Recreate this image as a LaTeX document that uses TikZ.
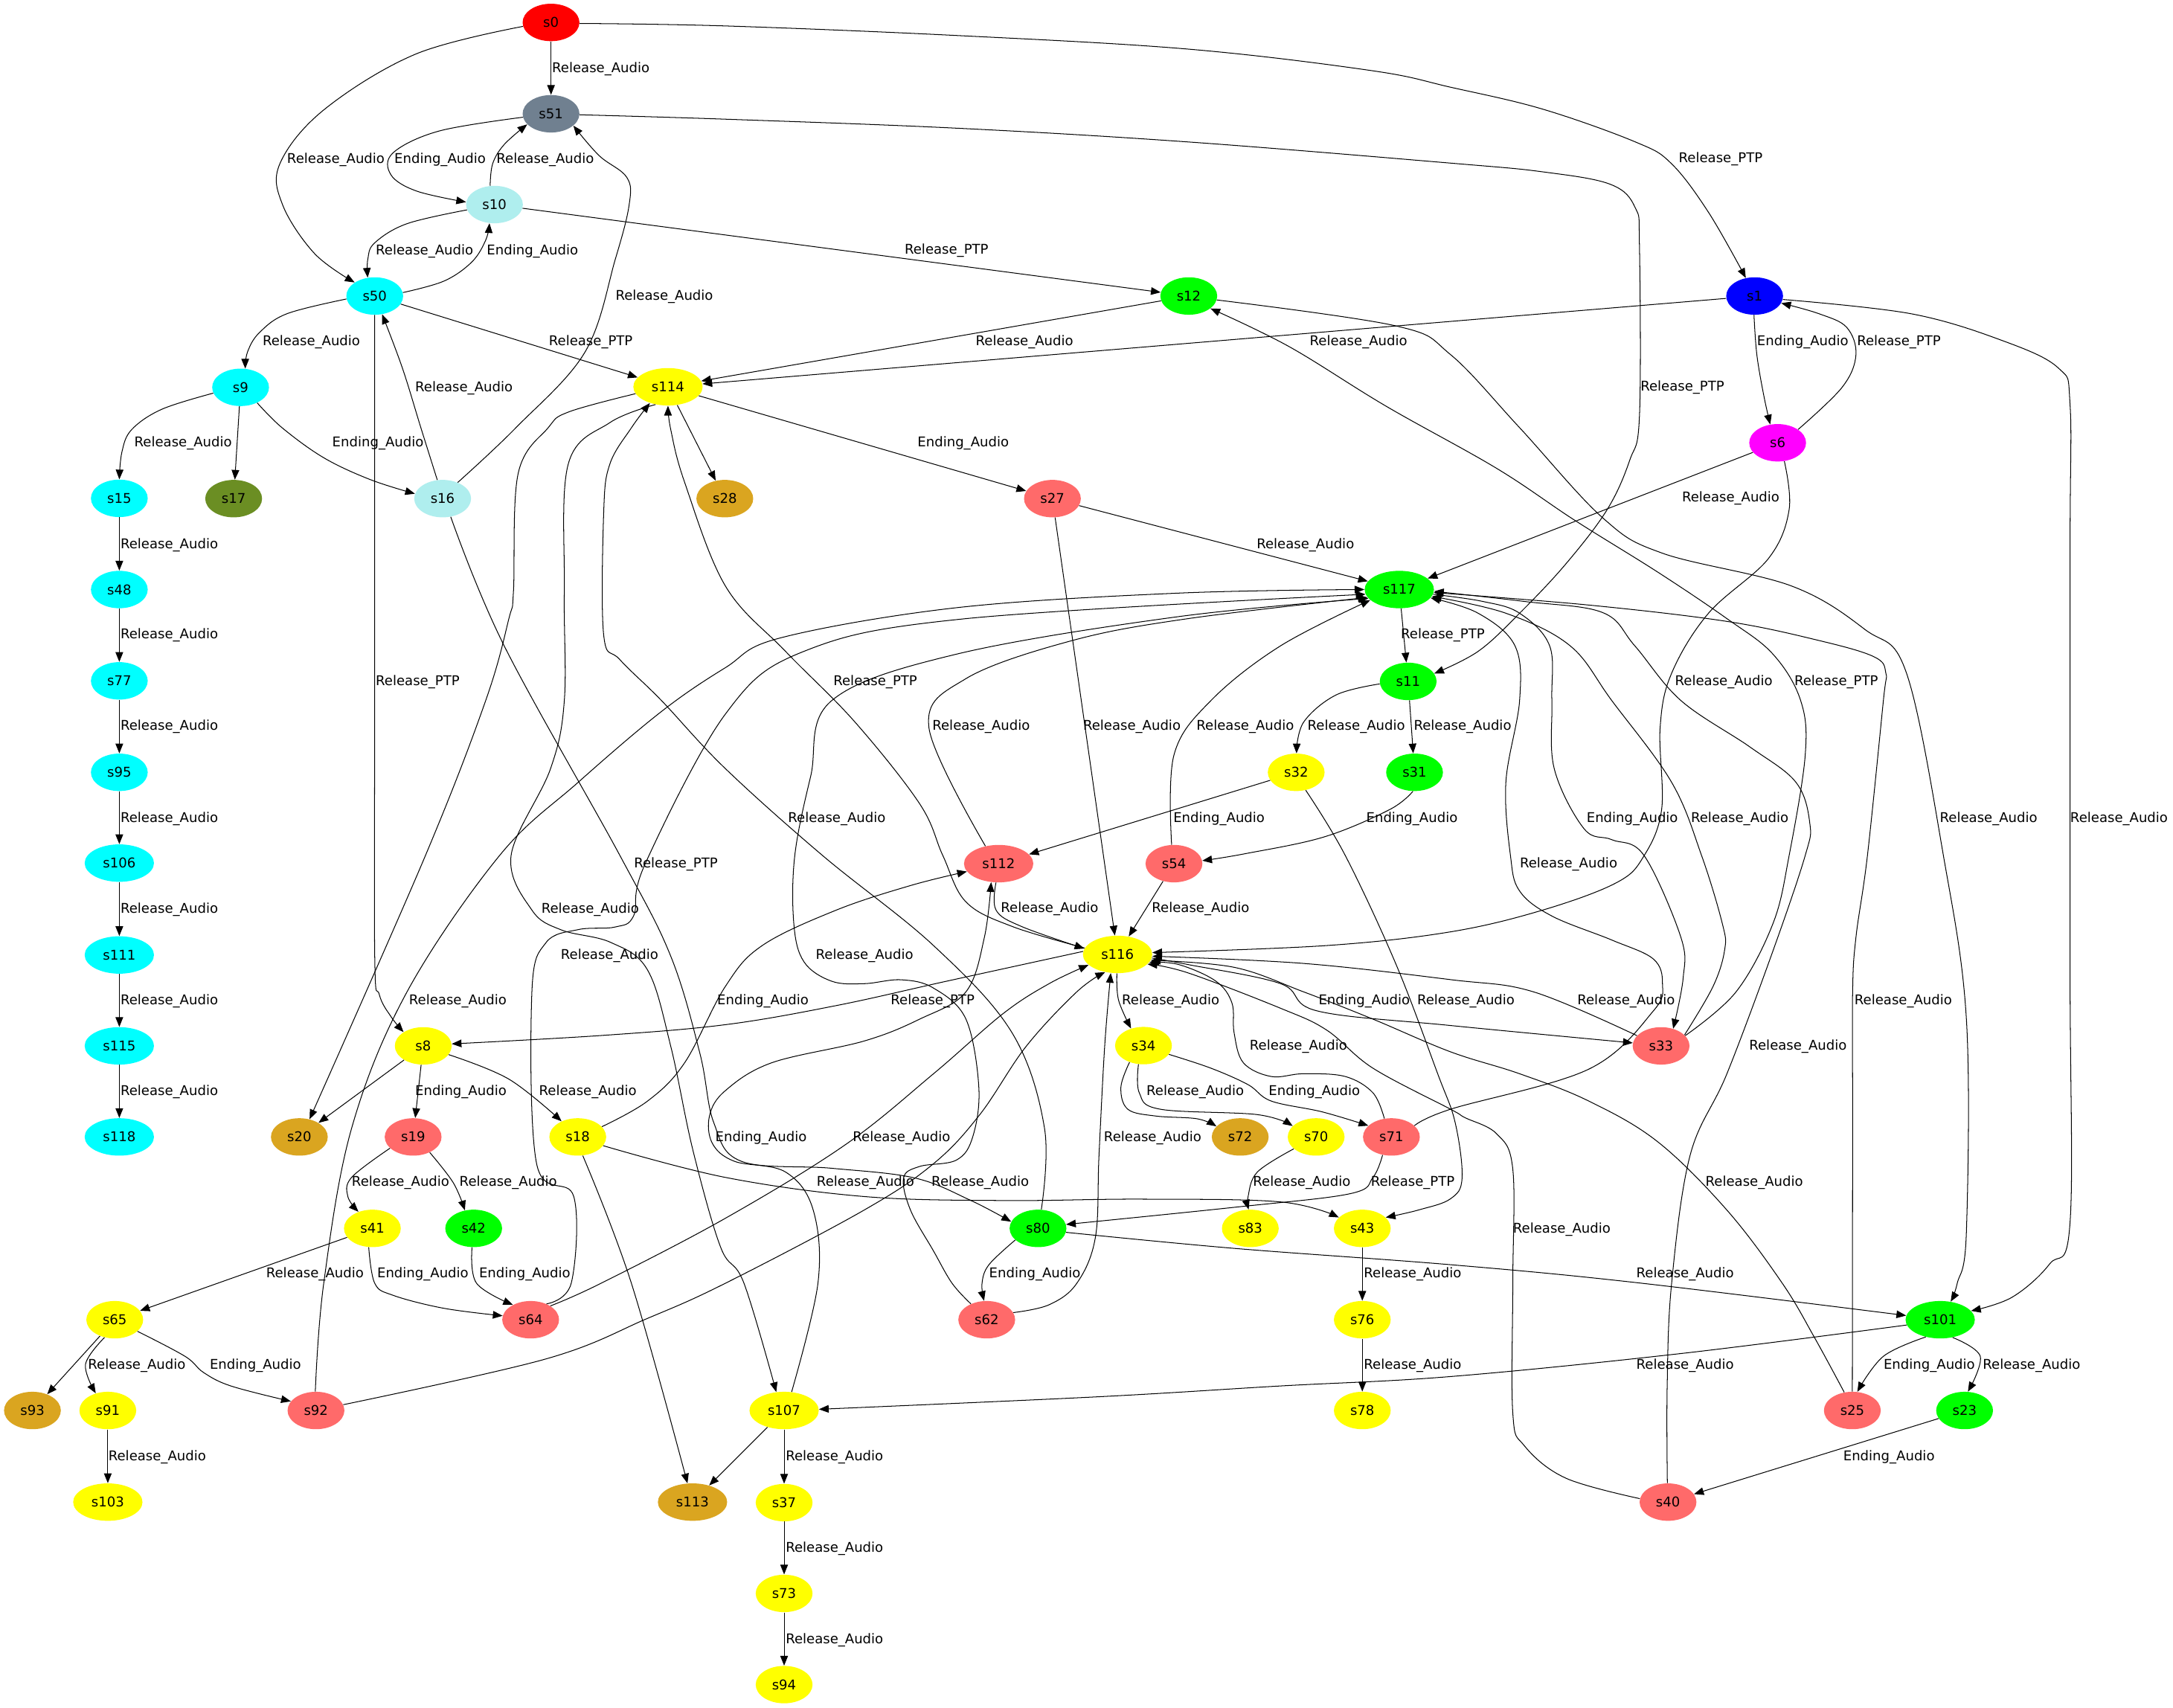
\documentclass[tikz,border=0pt]{standalone}
\usepackage{fontspec}
\setmainfont{DejaVu Sans}
\usetikzlibrary{arrows.meta,shapes.geometric}
\newcommand\labRA{Release\_Audio}
\newcommand\labRP{Release\_PTP}
\newcommand\labEA{Ending\_Audio}
\newcommand\gvfont{\fontsize{9.7pt}{11pt}\selectfont}
\definecolor{cred}{HTML}{FF0000}
\definecolor{cslate}{HTML}{708090}
\definecolor{cpale}{HTML}{AFEEEE}
\definecolor{ccyan}{HTML}{00FFFF}
\definecolor{cgreen}{HTML}{00FF00}
\definecolor{cblue}{HTML}{0000FF}
\definecolor{cmag}{HTML}{FF00FF}
\definecolor{cyel}{HTML}{FFFF00}
\definecolor{colive}{HTML}{6B8E23}
\definecolor{cgold}{HTML}{DAA520}
\definecolor{csal}{HTML}{FF6A6A}
\begin{document}
\begin{tikzpicture}[x=1pt,y=1pt,
  st/.style={ellipse, minimum width=41pt, minimum height=27pt, inner sep=0pt, font=\gvfont},
  wd/.style={minimum width=50pt},
  edg/.style={line width=0.55pt, -{Triangle[length=7pt,width=5.5pt]}},
  lbl/.style={anchor=west, inner sep=0pt, text height=7pt, text depth=0pt, font=\gvfont}]
\path[use as bounding box, fill=white] (0,0) rectangle (1568,-1232);
% nodes
\node[st,fill=cred] (s0) at (397.6,-16.2) {s0};
\node[st,fill=cslate] (s51) at (397.6,-82.1) {s51};
\node[st,fill=cpale] (s10) at (356.8,-147.6) {s10};
\node[st,fill=ccyan] (s50) at (270.4,-213.6) {s50};
\node[st,fill=cgreen] (s12) at (857.8,-213.6) {s12};
\node[st,fill=cblue] (s1) at (1266.1,-213.6) {s1};
\node[st,fill=ccyan] (s9) at (173.6,-279.5) {s9};
\node[st,wd,fill=cyel] (s114) at (482,-279.1) {s114};
\node[st,fill=cmag] (s6) at (1282.7,-319.5) {s6};
\node[st,fill=ccyan] (s15) at (86.1,-359.6) {s15};
\node[st,fill=colive] (s17) at (168.6,-359.8) {s17};
\node[st,fill=cpale] (s16) at (319.4,-359.8) {s16};
\node[st,fill=cgold] (s28) at (523,-359.8) {s28};
\node[st,fill=csal] (s27) at (759.4,-359.8) {s27};
\node[st,fill=ccyan] (s48) at (86.1,-425.4) {s48};
\node[st,wd,fill=cgreen] (s117) at (1009.7,-425.4) {s117};
\node[st,fill=ccyan] (s77) at (86.1,-491.3) {s77};
\node[st,fill=cgreen] (s11) at (1016.1,-491.7) {s11};
\node[st,fill=ccyan] (s95) at (86.1,-557.3) {s95};
\node[st,fill=cyel] (s32) at (935.3,-557.3) {s32};
\node[st,fill=cgreen] (s31) at (1020.7,-557.3) {s31};
\node[st,wd,fill=ccyan] (s106) at (86.1,-622.8) {s106};
\node[st,wd,fill=csal] (s112) at (720.6,-623.2) {s112};
\node[st,fill=csal] (s54) at (847.1,-623.2) {s54};
\node[st,wd,fill=ccyan] (s111) at (86.1,-689.1) {s111};
\node[st,wd,fill=cyel] (s116) at (806.4,-688.7) {s116};
\node[st,wd,fill=ccyan] (s115) at (86.1,-754.7) {s115};
\node[st,fill=cyel] (s8) at (305.4,-754.7) {s8};
\node[st,fill=cyel] (s34) at (825.1,-754.5) {s34};
\node[st,fill=csal] (s33) at (1198.6,-754.7) {s33};
\node[st,wd,fill=ccyan] (s118) at (86.1,-820.4) {s118};
\node[st,fill=cgold] (s20) at (216,-820.4) {s20};
\node[st,fill=csal] (s19) at (298.1,-820.4) {s19};
\node[st,fill=cyel] (s18) at (416.9,-820.4) {s18};
\node[st,fill=cgold] (s72) at (894.9,-820.4) {s72};
\node[st,fill=cyel] (s70) at (949.7,-820.4) {s70};
\node[st,fill=csal] (s71) at (1004,-820.4) {s71};
\node[st,fill=cyel] (s41) at (268.7,-886.4) {s41};
\node[st,fill=cgreen] (s42) at (341.8,-886.4) {s42};
\node[st,fill=cgreen] (s80) at (749,-886.4) {s80};
\node[st,fill=cyel] (s83) at (902.2,-886.4) {s83};
\node[st,fill=cyel] (s43) at (983,-886.4) {s43};
\node[st,fill=cyel] (s65) at (82.8,-952.3) {s65};
\node[st,fill=csal] (s64) at (382.9,-952.3) {s64};
\node[st,fill=csal] (s62) at (712,-952.3) {s62};
\node[st,fill=cyel] (s76) at (983,-952.3) {s76};
\node[st,wd,fill=cgreen] (s101) at (1400,-952.3) {s101};
\node[st,fill=cgold] (s93) at (23.4,-1017.8) {s93};
\node[st,fill=cyel] (s91) at (77.8,-1017.8) {s91};
\node[st,fill=csal] (s92) at (228,-1017.8) {s92};
\node[st,wd,fill=cyel] (s107) at (565.8,-1017.8) {s107};
\node[st,fill=cyel] (s78) at (983,-1017.8) {s78};
\node[st,fill=csal] (s25) at (1336.6,-1017.8) {s25};
\node[st,fill=cgreen] (s23) at (1417.6,-1017.8) {s23};
\node[st,wd,fill=cyel] (s103) at (77.8,-1083.9) {s103};
\node[st,wd,fill=cgold] (s113) at (499.7,-1083.9) {s113};
\node[st,fill=cyel] (s37) at (565.8,-1084.3) {s37};
\node[st,fill=csal] (s40) at (1203.6,-1083.9) {s40};
\node[st,fill=cyel] (s73) at (565.8,-1149.8) {s73};
\node[st,fill=cyel] (s94) at (565.8,-1215.6) {s94};
% straight edges
\draw[edg] (s0) -- (s51);
\draw[edg] (s10) -- (s12);
\draw[edg] (s50) -- (s114);
\draw[edg] (s12) -- (s114);
\draw[edg] (s1) -- (s114);
\draw[edg] (s9) -- (s17);
\draw[edg] (s114) -- (s27);
\draw[edg] (s114) -- (s28);
\draw[edg] (s6) -- (s117);
\draw[edg] (s27) -- (s117);
\draw[edg] (s15) -- (s48);
\draw[edg] (s48) -- (s77);
\draw[edg] (s77) -- (s95);
\draw[edg] (s95) -- (s106);
\draw[edg] (s106) -- (s111);
\draw[edg] (s111) -- (s115);
\draw[edg] (s115) -- (s118);
\draw[edg] (s117) -- (s11);
\draw[edg] (s11) -- (s31);
\draw[edg] (s27) -- (s116);
\draw[edg] (s32) -- (s112);
\draw[edg] (s54) -- (s116);
\draw[edg] (s8) -- (s19);
\draw[edg] (s8) -- (s20);
\draw[edg] (s41) -- (s65);
\draw[edg] (s65) -- (s93);
\draw[edg] (s91) -- (s103);
\draw[edg] (s43) -- (s76);
\draw[edg] (s76) -- (s78);
\draw[edg] (s23) -- (s40);
\draw[edg] (s107) -- (s113);
\draw[edg] (s107) -- (s37);
\draw[edg] (s37) -- (s73);
\draw[edg] (s73) -- (s94);
% curved edges
\draw[edg] plot[smooth,tension=0.6] coordinates {(s0.188) (300,-39) (234,-79) (202,-118) (204,-148) (227,-183) (s50.146)};
\draw[edg] plot[smooth,tension=0.6] coordinates {(s0.-2) (523,-18.7) (690,-25.6) (857,-35.4) (990,-51) (1047,-63) (1113,-78.7) (1180,-102.4) (1206,-118) (1233,-153.5) (s1.116)};
\draw[edg] plot[smooth,tension=0.6] coordinates {(s51.187) (317,-94.5) (283.7,-110.2) (282,-126) (300.4,-137.8) (s10.175)};
\draw[edg] plot[smooth,tension=0.6] coordinates {(s10.103) (355.5,-118.1) (363.8,-104.3) (s51.204)};
\draw[edg] plot[smooth,tension=0.6] coordinates {(s51.-2) (523.4,-86) (690.3,-92.5) (857,-102.4) (1046.7,-117.7) (1113.2,-124) (1162,-133) (1180,-150) (1183,-178) (1183,-300) (1176,-332) (1159.7,-367.7) (1129.8,-407) (1096.5,-442.5) (1066.6,-470) (s11.17)};
\draw[edg] plot[smooth,tension=0.6] coordinates {(s10.191) (293.7,-161.4) (270.4,-175.2) (265.4,-187) (s50.111)};
\draw[edg] plot[smooth,tension=0.6] coordinates {(s50.7) (320.4,-202.8) (340.5,-189) (350.5,-173.2) (s10.255)};
\draw[edg] plot[smooth,tension=0.6] coordinates {(s16.47) (372.2,-308.7) (422.2,-253.9) (444,-187) (454,-147.6) (452.3,-128) (432.2,-112.2) (s51.332)};
\draw[edg] plot[smooth,tension=0.6] coordinates {(s50.186) (207,-226.4) (187,-240.2) (178.6,-254) (s9.76)};
\draw[edg] plot[smooth,tension=0.6] coordinates {(s1.268) (1267.7,-256) (1272.7,-285.4) (s6.112)};
\draw[edg] plot[smooth,tension=0.6] coordinates {(s6.33) (1329.2,-279.5) (1339.2,-256) (1332.5,-236.2) (1312.6,-226.4) (s1.345)};
\draw[edg] plot[smooth,tension=0.6] coordinates {(s16.106) (303.7,-308.7) (290.4,-265.7) (s50.292)};
\draw[edg] plot[smooth,tension=0.6] coordinates {(s9.192) (116.8,-295.3) (95,-310) (88,-326) (s15.90)};
\draw[edg] plot[smooth,tension=0.6] coordinates {(s9.317) (203.6,-308.7) (233.6,-330.3) (267,-346) (s16.170)};
\draw[edg] plot[smooth,tension=0.6] coordinates {(s50.270) (270.4,-300) (270.4,-500) (270.4,-690) (273.7,-717.7) (282,-733.4) (s8.145)};
\draw[edg] plot[smooth,tension=0.6] coordinates {(s116.169) (730.3,-668.5) (697,-650.8) (680.3,-617.3) (663.6,-580) (616.9,-521) (566.8,-470) (523.4,-422.8) (494,-348) (484,-310) (s114.270)};
\draw[edg] plot[smooth,tension=0.6] coordinates {(s6.-70) (1291,-367.7) (1276,-403.1) (1232.8,-442.5) (1206.2,-485.8) (1197.9,-525.1) (1199,-584) (1186,-618) (1166.3,-637) (1113.2,-656.7) (1046.7,-672.4) (957.3,-682.3) (s116.3)};
\draw[edg] plot[smooth,tension=0.6] coordinates {(s33.23) (1252.7,-715.7) (1279.3,-666.5) (1291,-617.3) (1302.6,-544.8) (1299.3,-505.5) (1279.3,-472) (1246.1,-446.4) (1196.3,-412.9) (1136.4,-375.5) (1080,-338) (1000,-293) (930,-250) (s12.-30)};
\draw[edg] plot[smooth,tension=0.6] coordinates {(s112.127) (670.3,-525.1) (697,-489.7) (773.7,-462.2) (857.2,-446.4) (s117.194)};
\draw[edg] plot[smooth,tension=0.6] coordinates {(s54.97) (847.1,-544.8) (873.8,-505.5) (923.9,-466.1) (s117.200)};
\draw[edg] plot[smooth,tension=0.6] coordinates {(s11.185) (964,-501.5) (940.6,-521.2) (s32.89)};
\draw[edg] plot[smooth,tension=0.6] coordinates {(s80.80) (753.7,-814.2) (730.3,-745.3) (673.6,-682.3) (593.5,-617.3) (523.4,-554.6) (477.3,-505.5) (447.3,-476) (435.6,-458.2) (435.6,-370) (440,-335) (455.6,-308.7) (s114.222)};
\draw[edg] plot[smooth,tension=0.6] coordinates {(s31.265) (1002.7,-584.2) (955.5,-603.9) (898.6,-616) (s54.6)};
\draw[edg] plot[smooth,tension=0.6] coordinates {(s117.-8) (1070,-434) (1096.5,-442.5) (1118.2,-466.1) (1119.8,-505.5) (1121.5,-554.7) (1143,-598) (1163,-605.9) (1186.3,-617.3) (1212.9,-676.4) (1214.5,-705.9) (s33.55)};
\draw[edg] plot[smooth,tension=0.6] coordinates {(s33.25) (1236.1,-711.8) (1244.5,-685.2) (1242.8,-666.5) (1227.8,-617.3) (1206.2,-564.5) (1163,-505.5) (1133.1,-466.1) (1086.6,-442.5) (s117.-12)};
\draw[edg] plot[smooth,tension=0.6] coordinates {(s12.-8) (1007.4,-235.2) (1046.7,-255.9) (1096.5,-308.6) (1156.4,-373.6) (1199.6,-399.2) (1292.6,-422.8) (1345.8,-454.3) (1375.7,-485.8) (1402.3,-617.3) (1418.9,-735.4) (1418.9,-889) (1412.3,-926) (s101.60)};
\draw[edg] plot[smooth,tension=0.6] coordinates {(s1.-7) (1379,-226.4) (1445.5,-246) (1485.4,-265.7) (1493.7,-292) (1493.7,-400) (1493.7,-700) (1493.7,-882) (1479,-912) (1452,-936) (s101.16)};
\draw[edg] plot[smooth,tension=0.6] coordinates {(s16.-66) (363.8,-466) (447.3,-617.3) (484,-690) (505,-760) (515,-810) (535,-838) (600,-843) (660,-850) (700,-866) (s80.166)};
\draw[edg] plot[smooth,tension=0.6] coordinates {(s71.26) (1046.7,-800.4) (1146.4,-771.5) (1193,-729.5) (1199.6,-709.8) (1193,-692) (1163,-678.3) (1119.8,-661) (1096.5,-642.9) (1089.9,-617.3) (1086.6,-564.5) (1096.5,-505.5) (1093.2,-466.1) (1066.6,-442.5) (s117.-15)};
\draw[edg] plot[smooth,tension=0.6] coordinates {(s114.235) (440,-305) (410,-335) (407.2,-426.7) (407.2,-505.5) (397.2,-554.8) (368.8,-617.3) (383.8,-656.7) (405,-671) (440.6,-680) (467.3,-700) (484,-755) (500,-830) (520,-900) (536.8,-925.9) (s107.113)};
\draw[edg] plot[smooth,tension=0.6] coordinates {(s112.262) (718.7,-656.7) (737,-668.5) (s116.170)};
\draw[edg] plot[smooth,tension=0.6] coordinates {(s64.45) (412.2,-925.9) (414,-863.4) (387.2,-839.7) (383.8,-715.7) (393.9,-680.3) (417.2,-670.8) (444,-668.9) (457.3,-660.6) (465.6,-623.2) (523.4,-515.3) (580.1,-470) (697,-446.4) (s117.188)};
\draw[edg] plot[smooth,tension=0.6] coordinates {(s62.135) (687,-926) (673.6,-902.7) (657,-873.2) (652,-850) (663.6,-841.7) (690.3,-837) (702,-820) (706.3,-784.6) (697,-735.4) (673.6,-713) (650.2,-707) (623.5,-709.8) (600,-708) (580.1,-694) (572.8,-666.5) (573.5,-617.3) (585,-560) (600.2,-505.5) (690.3,-472) (850,-445) (s117.196)};
\draw[edg] plot[smooth,tension=0.6] coordinates {(s92.92) (233.6,-926) (253.7,-814.2) (293.7,-715.7) (360.5,-617.3) (417.2,-564.5) (477.3,-513.4) (523.4,-481.8) (563.5,-460.2) (690.3,-438.5) (850,-428) (s117.180)};
\draw[edg] plot[smooth,tension=0.6] coordinates {(s18.23) (467.3,-794.5) (494,-766.9) (523.4,-711.8) (550,-682.3) (603.5,-656.7) (657,-639) (s112.194)};
\draw[edg] plot[smooth,tension=0.6] coordinates {(s116.175) (683.6,-707.9) (603.5,-725.6) (523.4,-739.4) (434,-747.2) (s8.4)};
\draw[edg] plot[smooth,tension=0.6] coordinates {(s116.268) (807.1,-721.6) (s34.126)};
\draw[edg] plot[smooth,tension=0.6] coordinates {(s116.-6) (857.2,-696) (924,-709.8) (950.6,-729.5) (1046.7,-740) (s33.174)};
\draw[edg] plot[smooth,tension=0.6] coordinates {(s32.-62) (970.7,-617.3) (1007.4,-696) (1037.4,-774.8) (1050,-810) (1055,-850) (1046.7,-865) (1024,-873) (s43.25)};
\draw[edg] plot[smooth,tension=0.6] coordinates {(s33.157) (1106.5,-715.7) (1046.7,-706.9) (940.6,-695.2) (s116.-3)};
\draw[edg] plot[smooth,tension=0.6] coordinates {(s25.90) (1336.7,-926) (1336.8,-800) (1336.8,-715.7) (1339.2,-676.4) (1347.5,-617.3) (1359,-505.5) (1360.8,-485.8) (1352.4,-474) (1312.6,-462.2) (1246.1,-448.4) (1146.4,-436.6) (s117.-5)};
\draw[edg] plot[smooth,tension=0.6] coordinates {(s71.111) (990.7,-788.6) (970.7,-776.8) (940.6,-774.8) (917.3,-776.8) (897.2,-766.9) (890.5,-745.3) (888.9,-723.6) (877.2,-707.9) (850.5,-696) (s116.-14)};
\draw[edg] plot[smooth,tension=0.6] coordinates {(s40.92) (1203,-1000) (1206.2,-926) (1219.5,-833.8) (1246.1,-774.8) (1279.3,-686.2) (1302.6,-617.3) (1305.9,-594) (1295.9,-564.5) (1262.7,-539) (1212.9,-505.5) (1179.7,-466.1) (1156.4,-442) (1100,-434) (s117.-3)};
\draw[edg] plot[smooth,tension=0.6] coordinates {(s8.-19) (367.2,-778.7) (s18.136)};
\draw[edg] plot[smooth,tension=0.6] coordinates {(s34.255) (822.1,-788.6) (837.2,-800.4) (907.3,-804.3) (s70.155)};
\draw[edg] plot[smooth,tension=0.6] coordinates {(s34.-19) (873.8,-770.8) (900.6,-782.7) (917.3,-794.5) (954,-802.3) (s71.154)};
\draw[edg] plot[smooth,tension=0.6] coordinates {(s34.230) (808.8,-784.6) (813.8,-800.4) (833.8,-805.3) (863.8,-807.3) (s72.156)};
\draw[edg] plot[smooth,tension=0.6] coordinates {(s107.68) (590.2,-926) (586.8,-873.2) (566.8,-845.7) (530,-838) (514,-825) (512,-805) (523.4,-787) (556.8,-766.9) (623.5,-751.2) (663.6,-735.4) (697,-715.7) (710.3,-676.4) (s112.248)};
\draw[edg] plot[smooth,tension=0.6] coordinates {(s64.35) (433.9,-925.9) (523.4,-879.1) (610,-826) (673.6,-774.8) (723.7,-731.5) (757,-709.8) (s116.200)};
\draw[edg] plot[smooth,tension=0.6] coordinates {(s62.15) (757,-941.5) (777,-926) (790.4,-892.9) (793,-833.8) (797.1,-755.1) (s116.250)};
\draw[edg] plot[smooth,tension=0.6] coordinates {(s19.206) (253.7,-849.6) (251,-863.4) (s41.130)};
\draw[edg] plot[smooth,tension=0.6] coordinates {(s19.-43) (327.1,-853.5) (s42.116)};
\draw[edg] plot[smooth,tension=0.6] coordinates {(s18.-19) (523.4,-849.6) (623.5,-863.4) (723.7,-866.3) (823.8,-865.3) (924,-867.3) (s43.155)};
\draw[edg] plot[smooth,tension=0.6] coordinates {(s92.12) (393.9,-980.6) (467.3,-951.3) (523.4,-926) (623.5,-873.2) (673.6,-839.7) (707,-804.3) (740.4,-755.1) (777,-715.7) (s116.235)};
\draw[edg] plot[smooth,tension=0.6] coordinates {(s71.244) (990.7,-849.6) (974,-861.4) (890.5,-871.2) (s80.8)};
\draw[edg] plot[smooth,tension=0.6] coordinates {(s70.208) (907.3,-845.7) (900.6,-863.4) (s83.95)};
\draw[edg] plot[smooth,tension=0.6] coordinates {(s25.114) (1309.2,-965) (1286,-925.9) (1246.1,-873.2) (1196.3,-824) (1146.4,-794.5) (1096.5,-774.8) (1046.7,-759) (990.7,-735.4) (940.6,-715.7) (890.5,-698) (s116.-10)};
\draw[edg] plot[smooth,tension=0.6] coordinates {(s40.173) (1129.8,-1066.6) (1099.9,-1043.2) (1091.6,-1019.7) (1091.6,-925.9) (1091.6,-843.7) (1080,-818.2) (1056.7,-806.3) (1046.7,-800.4) (990.7,-770.8) (957.3,-743.3) (923.9,-727.5) (857.2,-702) (s116.-18)};
\draw[edg] plot[smooth,tension=0.6] coordinates {(s41.259) (270.4,-926) (283.7,-934.7) (320,-944) (s64.172)};
\draw[edg] plot[smooth,tension=0.6] coordinates {(s42.265) (343.8,-925.9) (s64.140)};
\draw[edg] plot[smooth,tension=0.6] coordinates {(s80.207) (713.6,-912.6) (708.6,-926) (s62.98)};
\draw[edg] plot[smooth,tension=0.6] coordinates {(s80.-8) (890.5,-900.8) (1046.7,-912.6) (1179.6,-925.4) (s101.173)};
\draw[edg] plot[smooth,tension=0.6] coordinates {(s65.240) (61.7,-984.5) (s91.125)};
\draw[edg] plot[smooth,tension=0.6] coordinates {(s65.-27) (133.5,-978.7) (146.9,-990.4) (166.9,-1000.2) (s92.160)};
\draw[edg] plot[smooth,tension=0.6] coordinates {(s101.189) (1212.9,-976.7) (1046.7,-993.3) (923.9,-1000.1) (790.4,-1008) (s107.2)};
\draw[edg] plot[smooth,tension=0.6] coordinates {(s101.230) (1359,-978.7) (s25.75)};
\draw[edg] plot[smooth,tension=0.6] coordinates {(s101.-55) (1428.9,-978.7) (s23.80)};
\draw[edg] plot[smooth,tension=0.6] coordinates {(s18.-75) (455.6,-926) (s113.105)};
\draw[edg] plot[smooth,tension=0.6] coordinates {(s114.192) (410.5,-297.2) (395.5,-308.7) (373.8,-342.1) (370.5,-426.7) (367.2,-446.4) (350.5,-505.4) (307,-617.3) (s20.60)};
% labels
\node[lbl] (l1) at (398.2,-48.8) {\labRA};
\node[lbl] (l2) at (207,-114.2) {\labRA};
\node[lbl] (l3) at (1211.2,-113.8) {\labRP};
\node[lbl] (l4) at (284.4,-114.2) {\labEA};
\node[lbl] (l5) at (358.1,-114.2) {\labRA};
\node[lbl] (l6) at (1183.6,-278.5) {\labRP};
\node[lbl] (l7) at (271,-180.1) {\labRA};
\node[lbl] (l8) at (351.1,-180.1) {\labEA};
\node[lbl] (l9) at (652.6,-179.7) {\labRP};
\node[lbl] (l10) at (444,-213) {\labRA};
\node[lbl] (l11) at (189.3,-246) {\labRA};
\node[lbl] (l12) at (395.9,-246) {\labRP};
\node[lbl] (l13) at (703.9,-246) {\labRA};
\node[lbl] (l14) at (944.9,-246) {\labRA};
\node[lbl] (l15) at (1267.7,-246) {\labEA};
\node[lbl] (l16) at (1339.8,-246) {\labRP};
\node[lbl] (l17) at (299.4,-279.1) {\labRA};
\node[lbl] (l18) at (96.8,-319) {\labRA};
\node[lbl] (l19) at (239.6,-319) {\labEA};
\node[lbl] (l20) at (661.9,-319) {\labEA};
\node[lbl] (l21) at (1213.5,-358.8) {\labRA};
\node[lbl] (l22) at (906.6,-392.3) {\labRA};
\node[lbl] (l23) at (86.8,-392.3) {\labRA};
\node[lbl] (l24) at (86.8,-457.6) {\labRA};
\node[lbl] (l25) at (1010.7,-457.6) {\labRP};
\node[lbl] (l26) at (271,-491.1) {\labRP};
\node[lbl] (l27) at (601.2,-491) {\labRP};
\node[lbl] (l28) at (1208.5,-491) {\labRA};
\node[lbl] (l29) at (1294.6,-491) {\labRP};
\node[lbl] (l30) at (86.8,-523.6) {\labRA};
\node[lbl] (l31) at (672.6,-523.6) {\labRA};
\node[lbl] (l32) at (781.4,-523.6) {\labRA};
\node[lbl] (l33) at (863.2,-523.6) {\labRA};
\node[lbl] (l34) at (943.3,-523.6) {\labRA};
\node[lbl] (l35) at (1020,-523.6) {\labRA};
\node[lbl] (l36) at (86.8,-589.7) {\labRA};
\node[lbl] (l37) at (568.5,-589.7) {\labRA};
\node[lbl] (l38) at (846.5,-589.7) {\labEA};
\node[lbl] (l39) at (985.7,-589.7) {\labEA};
\node[lbl] (l40) at (1144.7,-589.7) {\labEA};
\node[lbl] (l41) at (1220,-589.7) {\labRA};
\node[lbl] (l42) at (1399.6,-589.7) {\labRA};
\node[lbl] (l43) at (1493.7,-589.7) {\labRA};
\node[lbl] (l44) at (457.3,-622.6) {\labRP};
\node[lbl] (l45) at (1096.5,-622.6) {\labRA};
\node[lbl] (l46) at (86.8,-655.3) {\labRA};
\node[lbl] (l47) at (390.5,-655.3) {\labRA};
\node[lbl] (l48) at (722,-655) {\labRA};
\node[lbl] (l49) at (831,-655) {\labRA};
\node[lbl] (l50) at (86.8,-721.2) {\labRA};
\node[lbl] (l51) at (404.5,-688.6) {\labRA};
\node[lbl] (l52) at (588.5,-688.6) {\labRA};
\node[lbl] (l53) at (295,-721.2) {\labRA};
\node[lbl] (l54) at (517.4,-721.2) {\labEA};
\node[lbl] (l55) at (642.6,-721.2) {\labRP};
\node[lbl] (l56) at (809.4,-721.2) {\labRA};
\node[lbl] (l57) at (951.3,-721.2) {\labEA};
\node[lbl] (l58) at (1022.4,-721.2) {\labRA};
\node[lbl] (l59) at (1138,-721.2) {\labRA};
\node[lbl] (l60) at (1338,-721.2) {\labRA};
\node[lbl] (l61) at (901.6,-754) {\labRA};
\node[lbl] (l62) at (1262,-754) {\labRA};
\node[lbl] (l63) at (299.4,-787) {\labEA};
\node[lbl] (l64) at (388.8,-787) {\labRA};
\node[lbl] (l65) at (827.1,-787) {\labRA};
\node[lbl] (l66) at (915.3,-787) {\labEA};
\node[lbl] (l67) at (86.8,-787) {\labRA};
\node[lbl] (l68) at (516,-820) {\labEA};
\node[lbl] (l69) at (615.2,-820) {\labRA};
\node[lbl] (l70) at (796.4,-820) {\labRA};
\node[lbl] (l71) at (253.7,-852.5) {\labRA};
\node[lbl] (l72) at (331.4,-852.5) {\labRA};
\node[lbl] (l73) at (589.2,-852.5) {\labRA};
\node[lbl] (l74) at (672,-852.5) {\labRA};
\node[lbl] (l75) at (904,-852.5) {\labRA};
\node[lbl] (l76) at (989,-852.5) {\labRP};
\node[lbl] (l77) at (1230.5,-852.5) {\labRA};
\node[lbl] (l78) at (1091.6,-886) {\labRA};
\node[lbl] (l79) at (191.9,-918.5) {\labRA};
\node[lbl] (l80) at (272,-918.5) {\labEA};
\node[lbl] (l81) at (345.5,-918.5) {\labEA};
\node[lbl] (l82) at (713.6,-918.5) {\labEA};
\node[lbl] (l83) at (984,-918.5) {\labRA};
\node[lbl] (l84) at (1180.6,-918.5) {\labRA};
\node[lbl] (l85) at (63.4,-984.5) {\labRA};
\node[lbl] (l86) at (151.2,-984.5) {\labEA};
\node[lbl] (l87) at (984,-984.5) {\labRA};
\node[lbl] (l88) at (1180.6,-984.5) {\labRA};
\node[lbl] (l89) at (1359,-984.5) {\labEA};
\node[lbl] (l90) at (1430.6,-984.5) {\labRA};
\node[lbl] (l91) at (78.1,-1050.4) {\labRA};
\node[lbl] (l92) at (566.8,-1050.4) {\labRA};
\node[lbl] (l93) at (1329.9,-1050.4) {\labEA};
\node[lbl] (l94) at (566.8,-1116.5) {\labRA};
\node[lbl] (l95) at (566.8,-1182.3) {\labRA};
\end{tikzpicture}
\end{document}
